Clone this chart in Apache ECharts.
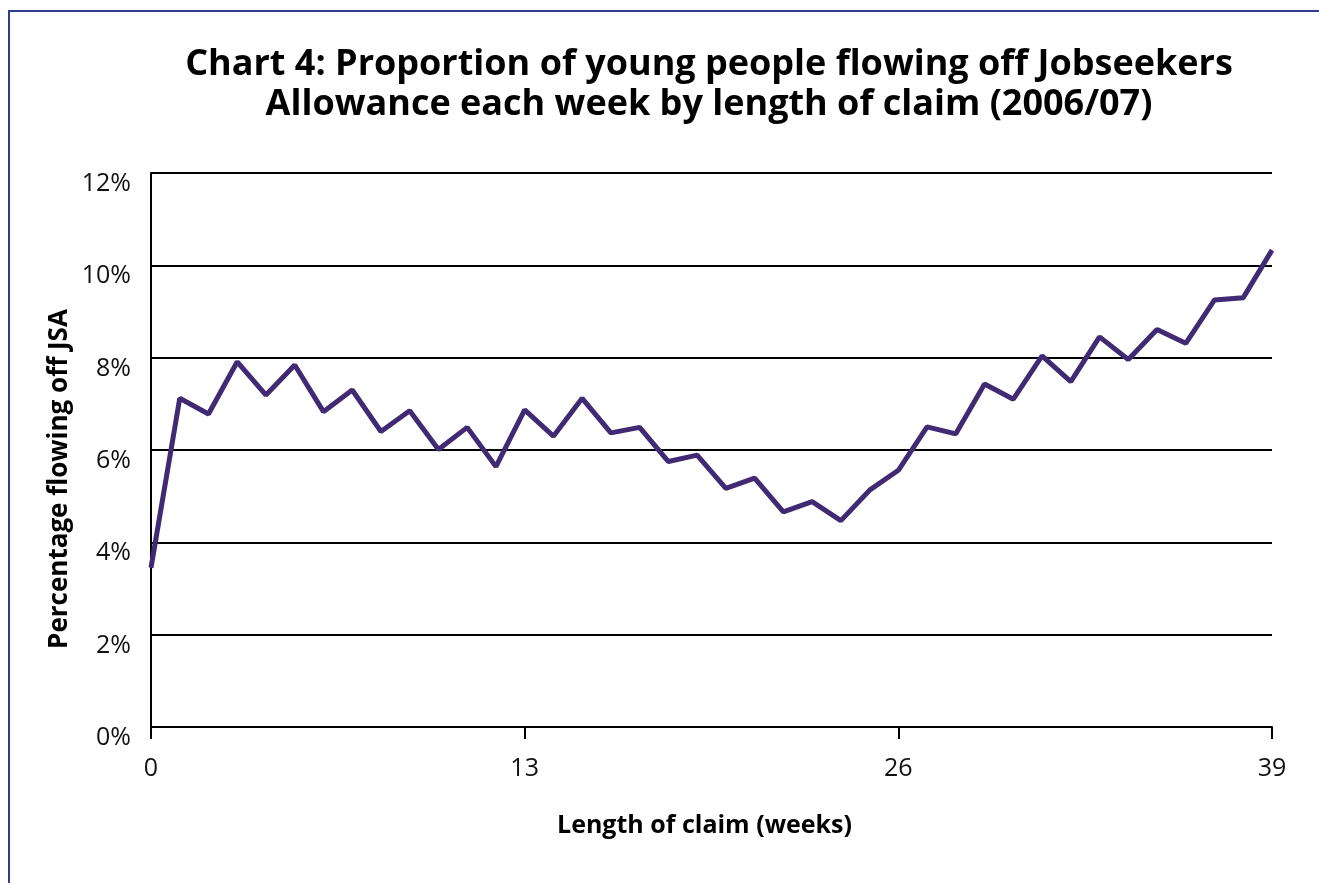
<!DOCTYPE html>
<html style="height: 100%">
   <head>
       <meta charset="utf-8">
   </head>
   <body style="height: 100%; margin: 0; background: #fff">
       <div id="container" style="width: 1319px; height: 883px"></div>
       <script type="text/javascript" src="https://cdn.jsdelivr.net/npm/echarts@6/dist/echarts.min.js"></script>
       <script type="text/javascript">
// weeks of claim and share flowing off JSA (%)
var weeks = [0,1,2,3,4,5,6,7,8,9,10,11,12,13,14,15,16,17,18,19,
             20,21,22,23,24,25,26,27,28,29,30,31,32,33,34,35,36,37,38,39];
var flowOff = [3.45,7.12,6.78,7.91,7.19,7.84,6.83,7.30,6.40,6.85,
               6.01,6.49,5.64,6.87,6.30,7.12,6.37,6.49,5.75,5.89,
               5.17,5.39,4.66,4.88,4.47,5.13,5.56,6.50,6.35,7.43,
               7.10,8.04,7.48,8.45,7.96,8.61,8.31,9.25,9.30,10.33];
var xTicks = [0, 13, 26, 39];
var yTicks = [0, 2, 4, 6, 8, 10, 12];

var points = weeks.map(function (w, i) { return [w, flowOff[i]]; });
var font = '"Open Sans", "Noto Sans", sans-serif';

var dom = document.getElementById("container");
var myChart = echarts.init(dom);
var option = {
    backgroundColor: '#fff',
    animation: false,
    title: {
        text: 'Chart 4: Proportion of young people flowing off Jobseekers\nAllowance each week by length of claim (2006/07)',
        left: 704,
        textAlign: 'center',
        top: 40,
        textStyle: {
            fontFamily: font,
            fontSize: 36,
            fontWeight: 'bold',
            lineHeight: 40,
            color: '#000'
        }
    },
    grid: {
        left: 151,
        right: 47,
        top: 173,
        bottom: 156
    },
    xAxis: {
        type: 'value',
        min: xTicks[0],
        max: xTicks[xTicks.length - 1],
        interval: 13,
        name: 'Length of claim (weeks)',
        nameLocation: 'middle',
        nameGap: 86,
        nameTextStyle: { fontFamily: font, fontSize: 25, fontWeight: 'bold', color: '#000', padding: [0, 14, 0, 0] },
        axisLine: { onZero: false, lineStyle: { color: '#000', width: 2 } },
        axisTick: { show: true, length: 12, lineStyle: { color: '#000', width: 2 } },
        axisLabel: { margin: 29, fontFamily: font, fontSize: 25, color: '#111' },
        splitLine: { show: false }
    },
    yAxis: {
        type: 'value',
        min: yTicks[0],
        max: yTicks[yTicks.length - 1],
        interval: 2,
        axisLine: { show: true, lineStyle: { color: '#000', width: 2 } },
        axisTick: { show: false },
        axisLabel: {
            margin: 20,
            fontFamily: font,
            fontSize: 25,
            color: '#111',
            verticalAlign: 'top',
            lineHeight: 22,
            formatter: '{value}%'
        },
        splitLine: { show: true, lineStyle: { color: '#000', width: 2 } }
    },
    graphic: [
        {
            type: 'rect',
            shape: { x: 9, y: 11, width: 1400, height: 1000 },
            style: { fill: 'none', stroke: '#2b3e8c', lineWidth: 2 },
            silent: true
        },
        {
            type: 'text',
            x: 60,
            y: 479,
            rotation: Math.PI / 2,
            style: {
                text: 'Percentage flowing off JSA',
                fontFamily: font,
                fontSize: 26,
                fontWeight: 'bold',
                fill: '#000',
                align: 'center',
                verticalAlign: 'middle'
            }
        }
    ],
    series: [
        {
            name: 'flow off',
            type: 'line',
            data: points,
            symbol: 'none',
            lineStyle: { color: '#402a74', width: 5 }
        }
    ]
};
myChart.setOption(option, true);
       </script>
   </body>
</html>
